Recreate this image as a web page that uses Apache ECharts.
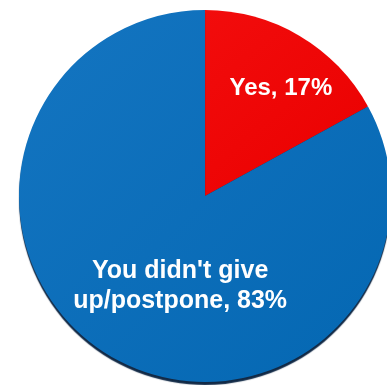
<!DOCTYPE html>
<html>
<head>
<meta charset="utf-8">
<script src="https://cdn.jsdelivr.net/npm/echarts@6/dist/echarts.min.js"></script>
<style>
  html, body { margin: 0; padding: 0; background: #ffffff; }
  #chart { width: 387px; height: 385px; }
</style>
</head>
<body>
<div id="chart"></div>
<script>
// Survey answers and their shares (percent)
const categories = ["Yes", "You didn't give\nup/postpone"];
const shares = [17, 83];
const sliceColors = [
  ['#f20c0c', '#ea0000'],
  ['#1475c1', '#0467b2']
];
const labelSizes = [24, 25];
// label nudges from the default inside position
const labelShift = [[27, -25], [24, 7]];

const chart = echarts.init(document.getElementById('chart'), null, { renderer: 'canvas' });

const data = categories.map((name, i) => ({
  name: name,
  value: shares[i],
  label: { fontSize: labelSizes[i] },
  itemStyle: {
    color: {
      type: 'linear', x: 0, y: 0, x2: 1, y2: 1,
      colorStops: [
        { offset: 0, color: sliceColors[i][0] },
        { offset: 1, color: sliceColors[i][1] }
      ]
    }
  }
}));

chart.setOption({
  animation: false,
  series: [{
    type: 'pie',
    center: [205, 196],
    radius: [0, 186],
    startAngle: 90,
    clockwise: true,
    data: data,
    itemStyle: {
      borderWidth: 0,
      shadowColor: 'rgba(5, 30, 60, 0.95)',
      shadowOffsetY: 3,
      shadowBlur: 1
    },
    label: {
      show: true,
      position: 'inside',
      color: '#ffffff',
      fontFamily: 'Liberation Sans, Arial, sans-serif',
      fontWeight: 'bold',
      lineHeight: 30,
      align: 'center',
      formatter: p => p.name + ', ' + p.value + '%'
    },
    labelLine: { show: false },
    labelLayout: function (params) {
      const s = labelShift[params.dataIndex];
      return { dx: s[0], dy: s[1] };
    },
    emphasis: { disabled: true }
  }]
});
</script>
</body>
</html>
